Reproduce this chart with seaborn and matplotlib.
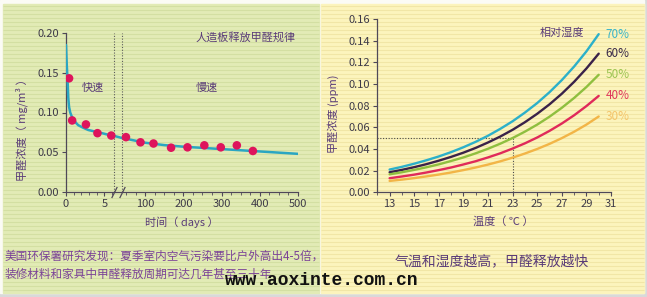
import numpy as np
import pandas as pd
import matplotlib
matplotlib.use("Agg")
import matplotlib.pyplot as plt
import seaborn as sns
from matplotlib.patches import Rectangle
from matplotlib.ticker import FixedLocator

# ---------------- data: left chart (formaldehyde release of wood panels) -------------
curve_days = [0, 0.05, 0.1, 0.2, 0.3, 0.4, 0.55, 0.75, 1.0, 1.3, 1.6, 2.2, 2.9, 3.8,
              4.7, 5.5, 6.3, 39, 60, 100, 150, 200, 250, 300, 400, 500]
curve_vals = [0.185, 0.172, 0.160, 0.141, 0.118, 0.107, 0.100, 0.095, 0.091, 0.087,
              0.084, 0.081, 0.078, 0.076, 0.074, 0.072, 0.0705, 0.068, 0.066, 0.062,
              0.059, 0.057, 0.0555, 0.054, 0.051, 0.048]
point_days = [0.4, 0.8, 2.6, 4.1, 5.9, 50, 88, 122, 168, 211, 255, 298, 340, 382]
point_vals = [0.143, 0.090, 0.085, 0.074, 0.071, 0.069, 0.0625, 0.061, 0.0557,
              0.0562, 0.0587, 0.0562, 0.0587, 0.0516]
left_xticks = [0, 5, 100, 200, 300, 400, 500]
left_yticks = [0.00, 0.05, 0.10, 0.15, 0.20]
break_days = [6.3, 39]

# ---------------- data: right chart (temperature / humidity) -------------------------
temps = [13, 14, 15, 16, 17, 18, 19, 20, 21, 22, 23, 24, 25, 26, 27, 28, 29, 30]
rh70 = [0.021, 0.0235, 0.0264, 0.0296, 0.0331, 0.0371, 0.0416, 0.0466, 0.0522,
        0.0586, 0.0656, 0.0736, 0.0824, 0.0924, 0.1036, 0.1161, 0.1301, 0.146]
rh60 = [0.0185, 0.0207, 0.0232, 0.0260, 0.0292, 0.0327, 0.0366, 0.0410, 0.0460,
        0.0515, 0.0577, 0.0647, 0.0725, 0.0812, 0.0910, 0.1020, 0.1143, 0.128]
rh50 = [0.0166, 0.0185, 0.0207, 0.0231, 0.0258, 0.0289, 0.0322, 0.0360, 0.0402,
        0.0449, 0.0501, 0.0560, 0.0625, 0.0698, 0.0780, 0.0871, 0.0972, 0.1085]
rh40 = [0.013, 0.0146, 0.0163, 0.0183, 0.0205, 0.0229, 0.0257, 0.0287, 0.0322,
        0.0360, 0.0404, 0.0452, 0.0506, 0.0567, 0.0635, 0.0711, 0.0796, 0.089]
rh30 = [0.0105, 0.0117, 0.0131, 0.0147, 0.0164, 0.0183, 0.0205, 0.0229, 0.0256,
        0.0286, 0.0320, 0.0358, 0.0400, 0.0447, 0.0500, 0.0559, 0.0625, 0.070]
rh_labels = ["70%", "60%", "50%", "40%", "30%"]
right_xticks = [13, 15, 17, 19, 21, 23, 25, 27, 29, 31]
right_yticks = [0.00, 0.02, 0.04, 0.06, 0.08, 0.10, 0.12, 0.14, 0.16]
ref_temp, ref_val = 23, 0.05

# ---------------- style --------------------------------------------------------------
sns.set_style("ticks")
plt.rcParams["font.family"] = ["Noto Sans CJK SC", "DejaVu Sans"]
plt.rcParams["axes.unicode_minus"] = False

W, H = 647, 297
fig = plt.figure(figsize=(W / 100, H / 100), dpi=100)
fig.patch.set_facecolor("#ffffff")

# background panels (decoration)
bg = fig.add_axes([0, 0, 1, 1], zorder=-10)
bg.set_xlim(0, W)
bg.set_ylim(H, 0)
bg.axis("off")
bg.add_patch(Rectangle((0, 0), W, H, color="#d9d9d9"))
bg.add_patch(Rectangle((0, 0), 644, 293, color="#fbfbf5"))
bg.add_patch(Rectangle((3, 4), 316, 289, color="#e2ebb6"))
bg.add_patch(Rectangle((321, 4), 323, 289, color="#fcf4bd"))
stripe_y = np.arange(6, 292, 4)
bg.hlines(stripe_y, 3, 319, colors="#d3dfa2", lw=0.8)
bg.hlines(stripe_y, 321, 644, colors="#f1e6a6", lw=0.8)

spine_c = "#4f4858"
tick_c = "#3e3a48"
purple = "#5a3c78"
text_purple = "#7b4397"


def style_axes(ax):
    ax.set_facecolor("none")
    for s in ["top", "right"]:
        ax.spines[s].set_visible(False)
    for s in ["left", "bottom"]:
        ax.spines[s].set_color(spine_c)
        ax.spines[s].set_linewidth(0.9)
    ax.tick_params(axis="both", which="major", direction="out", length=3,
                   width=0.8, color=spine_c, labelcolor=tick_c, labelsize=8, pad=2)
    ax.tick_params(axis="both", which="minor", direction="out", length=2,
                   width=0.6, color=spine_c)


# ---------------- left chart ---------------------------------------------------------
ax1 = fig.add_axes([66 / W, 1 - 192 / H, 232 / W, 159 / H])
style_axes(ax1)
brk_x = [0, 6.3, 39, 500]
brk_p = [0, 48.3, 55.7, 231.8]


def fwd(x):
    return np.interp(x, brk_x, brk_p)


def inv(p):
    return np.interp(p, brk_p, brk_x)


ax1.set_xscale("function", functions=(fwd, inv))

curve_df = pd.DataFrame({"day": curve_days, "val": curve_vals})
pts_df = pd.DataFrame({"day": point_days, "val": point_vals})
sns.lineplot(data=curve_df, x="day", y="val", ax=ax1, color="#2aa6c2", lw=1.8,
             sort=False, estimator=None, zorder=3)
sns.scatterplot(data=pts_df, x="day", y="val", ax=ax1, color="#de145c", s=38,
                edgecolor="none", zorder=4)
ax1.vlines(break_days, 0, 0.20, colors="#5a5a5a", linestyles=(0, (1, 1.5)), lw=0.8)
ax1.plot(break_days, [0, 0], ls="none", marker=[(-1, -2), (1, 2)], markersize=8,
         mec="#4f4858", mew=0.9, clip_on=False, zorder=5)
ax1.set_xlim(0, 500)
ax1.set_ylim(0, 0.20)
ax1.xaxis.set_major_locator(FixedLocator(left_xticks))
ax1.set_xticklabels([str(t) for t in left_xticks])
ax1.xaxis.set_minor_locator(FixedLocator([1, 2, 3, 4, 6] + list(range(50, 500, 25))))
ax1.yaxis.set_major_locator(FixedLocator(left_yticks))
ax1.set_yticklabels([f"{t:.2f}" for t in left_yticks])
ax1.set_xlabel("")
ax1.set_ylabel("")
ax1.text(0.5, -0.19, "时间（ days ）", transform=ax1.transAxes, ha="center",
         va="center", fontsize=8, color=purple)
ax1.text(-0.19, 0.41, "甲醛浓度（ mg/m³ ）", transform=ax1.transAxes, ha="center",
         va="center", rotation=90, fontsize=8, color=purple)
ax1.text(0.772, 0.975, "人造板释放甲醛规律", transform=ax1.transAxes, ha="center",
         va="center", fontsize=8, color=purple)
ax1.text(0.116, 0.655, "快速", transform=ax1.transAxes, ha="center", va="center",
         fontsize=8, color=purple)
ax1.text(0.608, 0.655, "慢速", transform=ax1.transAxes, ha="center", va="center",
         fontsize=8, color=purple)

# ---------------- right chart --------------------------------------------------------
ax2 = fig.add_axes([377.3 / W, 1 - 192.3 / H, 233.7 / W, 173.3 / H])
style_axes(ax2)
line_colors = ["#2cb0c9", "#3a2249", "#8fbf3f", "#e02a5a", "#f2b547"]
label_colors = ["#3ab4c8", "#3a2a48", "#9cc452", "#e0385c", "#f4c46a"]
series = [rh70, rh60, rh50, rh40, rh30]
rows = []
for lbl, vals in zip(rh_labels, series):
    for t, v in zip(temps, vals):
        rows.append({"temp": t, "val": v, "rh": lbl})
rdf = pd.DataFrame(rows)
sns.lineplot(data=rdf, x="temp", y="val", hue="rh", hue_order=rh_labels,
             palette=line_colors, ax=ax2, lw=1.7, legend=False, zorder=3)
ax2.plot([12, ref_temp], [ref_val, ref_val], color="#4a4a4a", ls=(0, (1, 1.5)), lw=0.8)
ax2.plot([ref_temp, ref_temp], [0, ref_val], color="#4a4a4a", ls=(0, (1, 1.5)), lw=0.8)
for lbl, vals, c in zip(rh_labels, series, label_colors):
    ax2.annotate(lbl, xy=(temps[-1], vals[-1]), xytext=(5, 0),
                 textcoords="offset points", ha="left", va="center",
                 fontsize=8.5, color=c)
ax2.text(0.788, 0.92, "相对湿度", transform=ax2.transAxes, ha="center",
         va="center", fontsize=8, color=purple)
ax2.set_xlim(12, 31)
ax2.set_ylim(0, 0.16)
ax2.xaxis.set_major_locator(FixedLocator(right_xticks))
ax2.set_xticklabels([str(t) for t in right_xticks])
ax2.xaxis.set_minor_locator(FixedLocator(list(range(12, 31, 2))))
ax2.yaxis.set_major_locator(FixedLocator(right_yticks))
ax2.set_yticklabels([f"{t:.2f}" for t in right_yticks])
ax2.set_xlabel("")
ax2.set_ylabel("")
ax2.text(0.538, -0.166, "温度（ ℃ ）", transform=ax2.transAxes, ha="center",
         va="center", fontsize=8, color=purple)
ax2.text(-0.19, 0.452, "甲醛浓度 (ppm)", transform=ax2.transAxes, ha="center",
         va="center", rotation=90, fontsize=8, color=purple)

# ---------------- captions -----------------------------------------------------------
fig.text(5 / W, 1 - 256 / H, "美国环保署研究发现：夏季室内空气污染要比户外高出4-5倍，",
         ha="left", va="center", fontsize=8.4, color=text_purple)
fig.text(5 / W, 1 - 274 / H, "装修材料和家具中甲醛释放周期可达几年甚至三十年",
         ha="left", va="center", fontsize=8.4, color=text_purple)
fig.text(491.7 / W, 1 - 261.7 / H, "气温和湿度越高，甲醛释放越快",
         ha="center", va="center", fontsize=10, color=purple)
fig.text(225 / W, 1 - 285 / H, "www.aoxinte.com.cn", ha="left", va="baseline",
         fontsize=13, fontweight="bold", family=["Liberation Mono", "DejaVu Sans Mono"],
         color="#111111")

fig.savefig("out.png", dpi=100)
